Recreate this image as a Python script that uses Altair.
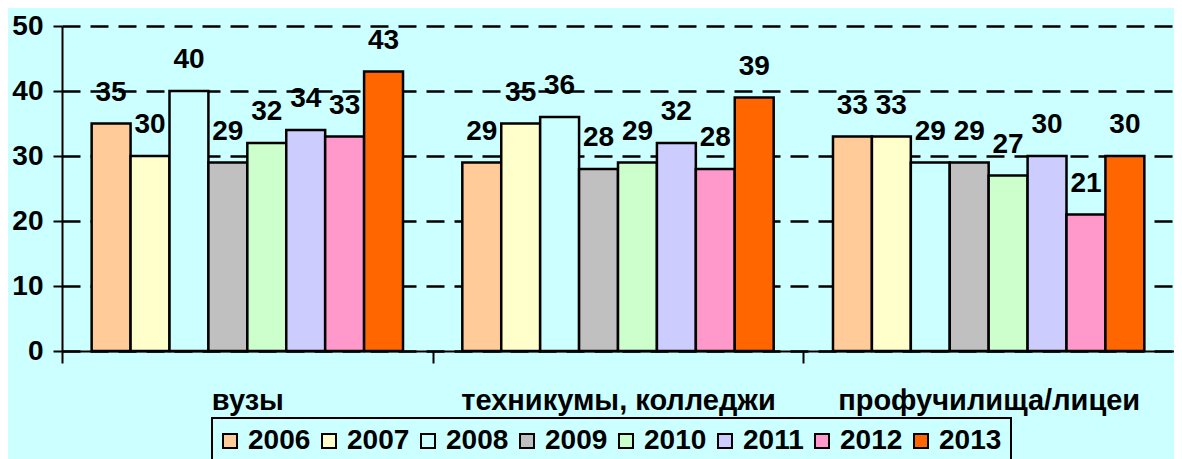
import altair as alt
import pandas as pd

categories = ["вузы", "техникумы, колледжи", "профучилища/лицеи"]
years = ["2006", "2007", "2008", "2009", "2010", "2011", "2012", "2013"]
values_vuzy = [35, 30, 40, 29, 32, 34, 33, 43]
values_tech = [29, 35, 36, 28, 29, 32, 28, 39]
values_prof = [33, 33, 29, 29, 27, 30, 21, 30]
colors = ["#FFCC99", "#FFFFCC", "#CCFFFF", "#C0C0C0", "#CCFFCC", "#CCCCFF", "#FF99CC", "#FF6600"]
y_ticks = [0, 10, 20, 30, 40, 50]

rows = []
for cat, vals in zip(categories, [values_vuzy, values_tech, values_prof]):
    for yr, v in zip(years, vals):
        rows.append({"cat": cat, "year": yr, "value": v})
df = pd.DataFrame(rows)

FONT = "Arial, Liberation Sans, sans-serif"
W = 1112
STEP = W / len(categories)

x_enc = alt.X(
    "cat:N",
    sort=categories,
    scale=alt.Scale(paddingInner=0.16, paddingOuter=0.08),
    axis=alt.Axis(
        title=None,
        labelAngle=0,
        tickOffset=-STEP / 2,
        labelOffset=STEP / 2,
        tickSize=12,
        labelPadding=37,
        labelFontSize=29,
        labelLimit=600,
        labelBaseline="middle",
    ),
)
xo_enc = alt.XOffset("year:N", sort=years, scale=alt.Scale(paddingInner=0, paddingOuter=0))
y_enc = alt.Y(
    "value:Q",
    scale=alt.Scale(domain=[0, 50], nice=False),
    axis=alt.Axis(
        title=None,
        values=y_ticks,
        grid=True,
        gridDash=[18, 10],
        gridColor="black",
        gridWidth=2.5,
        gridOpacity=1,
        tickSize=9,
        labelPadding=10,
        labelFontSize=28,
    ),
)

bars = alt.Chart(df).mark_bar(stroke="black", strokeWidth=2.5).encode(
    x=x_enc,
    xOffset=xo_enc,
    y=y_enc,
    color=alt.Color(
        "year:N",
        sort=years,
        scale=alt.Scale(domain=years, range=colors),
        legend=alt.Legend(
            title=None,
            orient="none",
            legendX=150,
            legendY=392,
            direction="horizontal",
            columns=8,
            symbolType="square",
            symbolSize=196,
            symbolStrokeColor="black",
            symbolStrokeWidth=2,
            symbolOffset=-5,
            labelFontSize=28,
            labelOffset=4,
            columnPadding=7,
            padding=9,
            strokeColor="black",
        ),
    ),
)

labels = alt.Chart(df).mark_text(
    dy=-31, fontSize=28, fontWeight="bold", font=FONT, color="black", baseline="middle"
).encode(
    x=x_enc,
    xOffset=xo_enc,
    y=y_enc,
    text="value:Q",
)

chart = (
    alt.layer(bars, labels)
    .properties(
        width=W,
        height=325,
        autosize=alt.AutoSizeParams(type="none"),
        padding={"left": 54, "top": 18, "right": 0, "bottom": 108},
        background="#CCFFFF",
    )
    .configure_view(stroke=None)
    .configure_axis(
        domainColor="black",
        domainWidth=2,
        tickColor="black",
        tickWidth=2,
        labelColor="black",
        labelFont=FONT,
        labelFontWeight="bold",
    )
    .configure_legend(
        labelFont=FONT,
        labelFontWeight="bold",
        labelColor="black",
        strokeWidth=2,
    )
)

chart.save("out.html", embed_options={"renderer": "svg", "actions": False})
